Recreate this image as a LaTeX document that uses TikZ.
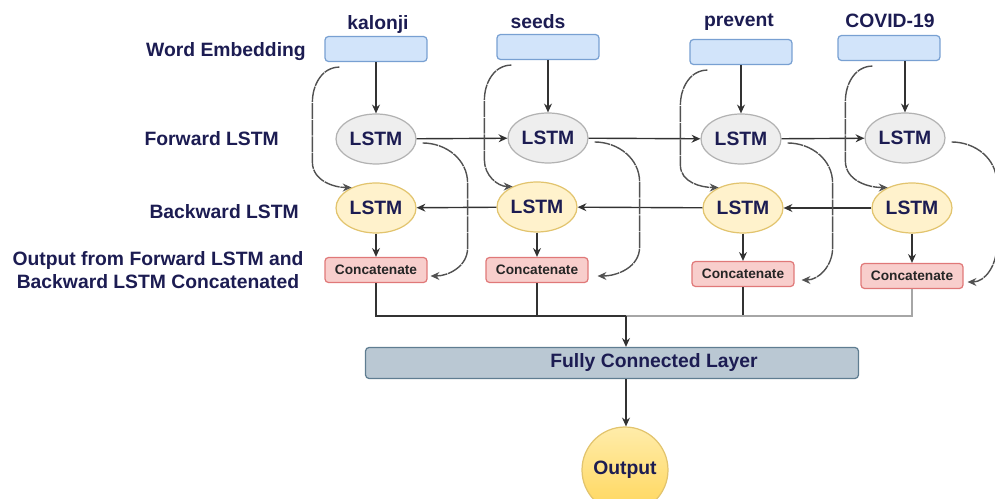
\documentclass[tikz,border=0pt]{standalone}
\usepackage{fontspec}
\setmainfont{Liberation Sans}
\usetikzlibrary{shapes.geometric,arrows.meta}
\definecolor{tinta}{RGB}{28,28,82}
\definecolor{embfondo}{RGB}{210,228,250}
\definecolor{embborde}{RGB}{120,160,210}
\definecolor{fwfondo}{RGB}{238,238,238}
\definecolor{bwfondo}{RGB}{255,242,204}
\definecolor{bwborde}{RGB}{226,196,110}
\definecolor{catfondo}{RGB}{248,206,204}
\definecolor{catborde}{RGB}{224,120,120}
\definecolor{fcfondo}{RGB}{186,200,211}
\definecolor{fcborde}{RGB}{95,125,145}
\definecolor{linea}{RGB}{50,50,50}
\definecolor{oroclaro}{RGB}{255,236,170}
\definecolor{oro}{RGB}{255,214,90}
\begin{document}
\begin{tikzpicture}[x=0.02cm, y=0.02cm,
  every node/.style={font=\fontsize{11}{13}\selectfont\bfseries, text=tinta},
  emb/.style={draw=embborde, fill=embfondo, rounded corners=2pt, line width=0.7pt,
    minimum width=2.04cm, minimum height=0.5cm, inner sep=0pt},
  fwd/.style={ellipse, draw=gray!60, fill=fwfondo, line width=0.7pt,
    minimum width=1.6cm, minimum height=1cm, inner sep=0pt},
  bwd/.style={fwd, draw=bwborde, fill=bwfondo},
  cat/.style={draw=catborde, fill=catfondo, rounded corners=2pt, line width=0.7pt,
    minimum width=2.04cm, minimum height=0.5cm, inner sep=0pt,
    font=\fontsize{7.8}{9}\selectfont\bfseries, text=black!85},
  fcl/.style={draw=fcborde, fill=fcfondo, rounded corners=2pt, line width=0.7pt,
    minimum width=9.86cm, minimum height=0.62cm, inner sep=0pt},
  salida/.style={circle, draw=bwborde, top color=oroclaro, bottom color=oro,
    line width=0.7pt, minimum size=1.72cm, inner sep=0pt},
  arr/.style={draw=linea, line width=0.8pt, -{Stealth[length=5pt,width=4.5pt]}},
  atajo/.style={arr, draw=linea!85, dash pattern=on 9pt off 0.5pt}]
  \useasboundingbox (0,0) rectangle (995,-499);

  % etiquetas de las filas
  \node[anchor=east] (tEmb) at (312,-52) {Word Embedding};
  \node[anchor=east] (tFw) at (285,-139) {Forward LSTM};
  \node[anchor=east] (tBw) at (305,-212) {Backward LSTM};
  \node[align=center, inner sep=0pt] (tCat) at (158,-270)
    {Output from Forward LSTM and\\Backward LSTM Concatenated};

  % palabras y embeddings
  \node (w1) at (378,-25) {kalonji};
  \node (w2) at (538,-22) {seeds};
  \node (w3) at (739,-22) {prevent};
  \node (w4) at (890,-21) {COVID-19};
  \node[emb] (e1) at (376,-49) {};
  \node[emb] (e2) at (548,-47) {};
  \node[emb] (e3) at (741,-52) {};
  \node[emb] (e4) at (889,-48) {};

  % LSTM hacia adelante y hacia atras
  \node[fwd] (f1) at (376,-139) {LSTM};
  \node[fwd] (f2) at (548,-138) {LSTM};
  \node[fwd] (f3) at (741,-139) {LSTM};
  \node[fwd] (f4) at (905,-138) {LSTM};
  \node[bwd] (b1) at (376,-208) {LSTM};
  \node[bwd] (b2) at (537,-207) {LSTM};
  \node[bwd] (b3) at (743,-208) {LSTM};
  \node[bwd] (b4) at (912,-208) {LSTM};

  % concatenacion
  \node[cat] (c1) at (376,-270) {Concatenate};
  \node[cat] (c2) at (537,-270) {Concatenate};
  \node[cat] (c3) at (743,-274) {Concatenate};
  \node[cat] (c4) at (912,-276) {Concatenate};

  % capa densa y salida
  \node[fcl] (fc) at (612,-363) {\hspace*{1.68cm}Fully Connected Layer};
  \node[salida] (o) at (625,-470) {Output};
  \coordinate (bus) at (626,-316);

  % flechas
  \foreach \i in {1,...,4} {
    \draw[arr] (f\i |- e\i.south) -- (f\i);
    \draw[arr] (b\i) -- (c\i);
  }
  \foreach \i/\j in {1/2,2/3,3/4} \draw[arr] (f\i) -- (f\j);
  \foreach \i/\j in {2/1,3/2,4/3} \draw[arr] (b\i) -- (b\j);
  \foreach \i/\dx in {1/15,2/15,3/18,4/35}
    \draw[atajo] ([shift={(\dx,-5)}]e\i.south west) to[out=180,in=90] ++(-27,-35)
      -- ++(0,-60) to[out=-90,in=180] (b\i.140);
  \foreach \i/\gx in {1/3,2/9,3/7,4/4}
    \draw[atajo] ([shift={(6,-4)}]f\i.east) to[out=0,in=90] ++(45,-40)
      -- ++(0,-65) to[out=-90,in=0] ([shift={(\gx,-6)}]c\i.east);
  \foreach \i in {1,2,3} \draw[draw=linea, line width=0.8pt] (c\i) |- (bus);
  \draw[draw=gray!70, line width=0.6pt] (c4) |- (bus);
  \draw[arr] (bus) -- (bus |- fc.north);
  \draw[arr] (bus |- fc.south) -- (bus |- o.north);
\end{tikzpicture}
\end{document}
